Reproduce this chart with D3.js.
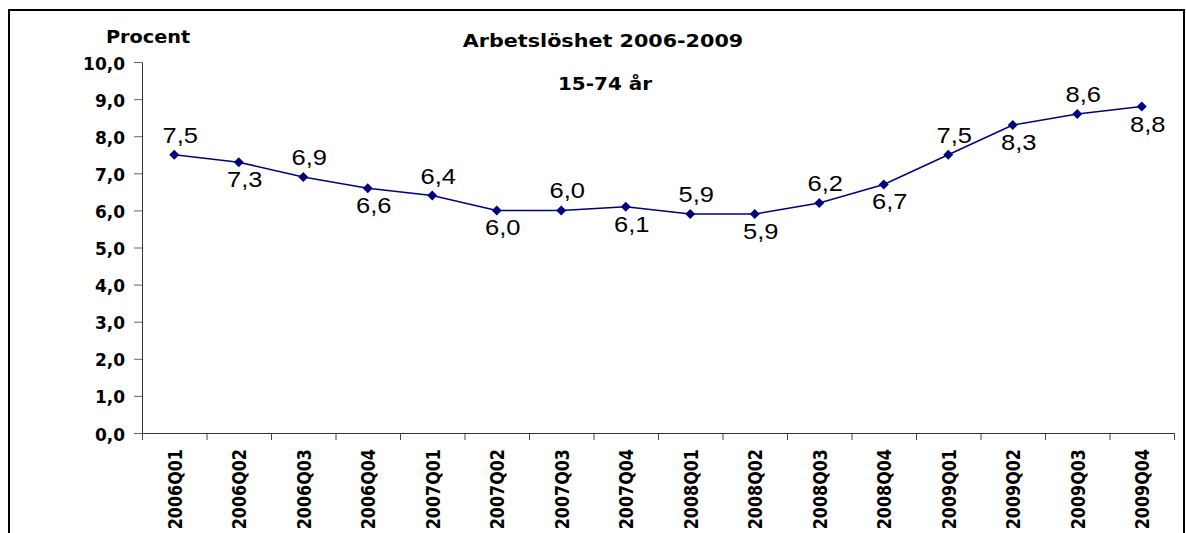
<!DOCTYPE html>
<html>
<head>
<meta charset="utf-8">
<script src="https://cdn.jsdelivr.net/npm/d3@7"></script>
<style>
  body { margin: 0; background: #fff; }
  svg { display: block; }
  .bold { font-family: "DejaVu Sans", Verdana, sans-serif; font-weight: bold; fill: #000; }
  .lbl { font-family: "Liberation Sans", Arial, sans-serif; fill: #000; }
</style>
</head>
<body>
<svg width="1186" height="533"></svg>
<script>
var quarters = ['2006Q01', '2006Q02', '2006Q03', '2006Q04', '2007Q01', '2007Q02', '2007Q03', '2007Q04',
    '2008Q01', '2008Q02', '2008Q03', '2008Q04', '2009Q01', '2009Q02', '2009Q03', '2009Q04'];
var unemployment = [7.5, 7.3, 6.9, 6.6, 6.4, 6.0, 6.0, 6.1, 5.9, 5.9, 6.2, 6.7, 7.5, 8.3, 8.6, 8.8];
var yTicks = [0, 1, 2, 3, 4, 5, 6, 7, 8, 9, 10];

var svg = d3.select('svg'),
    margin = { top: 62, left: 142, right: 12, bottom: 100 },
    plotW = 1174 - margin.left,
    plotH = 433 - margin.top;

var fmt = d => d.toFixed(1).replace('.', ',');

// frame round the whole chart (bottom edge is off the picture)
svg.append('rect')
    .attr('x', 9).attr('y', 10)
    .attr('width', 1175).attr('height', 560)
    .attr('fill', 'none').attr('stroke', '#000').attr('stroke-width', 2);

var g = svg.append('g').attr('transform', `translate(${margin.left},${margin.top})`);

var xBand = d3.scaleBand().domain(quarters).range([0, plotW]);
var xEdge = d3.scaleLinear().domain([0, quarters.length]).range([0, plotW]);
var yScale = d3.scaleLinear().domain([0, 10]).range([plotH, 0]);
var cx = d => xBand(d) + xBand.bandwidth() / 2;

// Y axis
var yAxis = d3.axisLeft(yScale).tickValues(yTicks).tickSize(8).tickSizeOuter(0).tickFormat(fmt);
var yAxisGroup = g.append('g').call(yAxis);
yAxisGroup.select('.domain').attr('stroke', '#333');
yAxisGroup.selectAll('.tick line').attr('stroke', '#666');
yAxisGroup.selectAll('.tick text')
    .attr('class', 'bold')
    .style('font-size', '17px')
    .attr('x', null).attr('dy', null)
    .attr('text-anchor', 'end')
    .attr('dominant-baseline', 'central')
    .attr('transform', 'translate(-17,1)');

// X axis: ticks between the categories
var xAxis = d3.axisBottom(xEdge).tickValues(d3.range(0, quarters.length + 1)).tickSize(7).tickSizeOuter(0).tickFormat('');
var xAxisGroup = g.append('g').attr('transform', `translate(0,${plotH})`).call(xAxis);
xAxisGroup.select('.domain').attr('stroke', '#333');
xAxisGroup.selectAll('.tick line').attr('stroke', '#444');

g.append('g').selectAll('text')
    .data(quarters)
    .enter().append('text')
    .attr('class', 'bold')
    .style('font-size', '16px')
    .attr('text-anchor', 'end')
    .attr('dominant-baseline', 'central')
    .attr('transform', d => `translate(${cx(d) + 1},${plotH + 16}) scale(1.2,1) rotate(-90)`)
    .text(d => d);

// line + markers
var line = d3.line()
    .x((d, i) => cx(quarters[i]))
    .y(d => yScale(d));

g.append('path')
    .datum(unemployment)
    .attr('fill', 'none')
    .attr('stroke', '#000080')
    .attr('stroke-width', 1.5)
    .attr('d', line);

g.selectAll('.pt')
    .data(unemployment)
    .enter().append('path')
    .attr('class', 'pt')
    .attr('d', 'M0,-5L5,0L0,5L-5,0Z')
    .attr('fill', '#000080')
    .attr('transform', (d, i) => `translate(${cx(quarters[i])},${yScale(d)})`);

// value labels, alternately above and below
g.selectAll('.val')
    .data(unemployment)
    .enter().append('text')
    .attr('class', 'lbl val')
    .style('font-size', '22px')
    .attr('text-anchor', 'middle')
    .attr('transform', (d, i) => `translate(${cx(quarters[i]) + 6},${yScale(d) + (i % 2 === 0 ? -12 : 25)}) scale(1.16,1)`)
    .text(d => fmt(d));

// titles
svg.append('text')
    .attr('class', 'bold')
    .style('font-size', '18px')
    .attr('text-anchor', 'middle')
    .attr('transform', 'translate(148,43) scale(1.07,1)')
    .text('Procent');

svg.append('text')
    .attr('class', 'bold')
    .style('font-size', '18px')
    .attr('text-anchor', 'middle')
    .attr('transform', 'translate(603,47) scale(1.15,1)')
    .text('Arbetslöshet 2006-2009');

svg.append('text')
    .attr('class', 'bold')
    .style('font-size', '18px')
    .attr('text-anchor', 'middle')
    .attr('transform', 'translate(605,90) scale(1.11,1)')
    .text('15-74 år');
</script>
</body>
</html>
